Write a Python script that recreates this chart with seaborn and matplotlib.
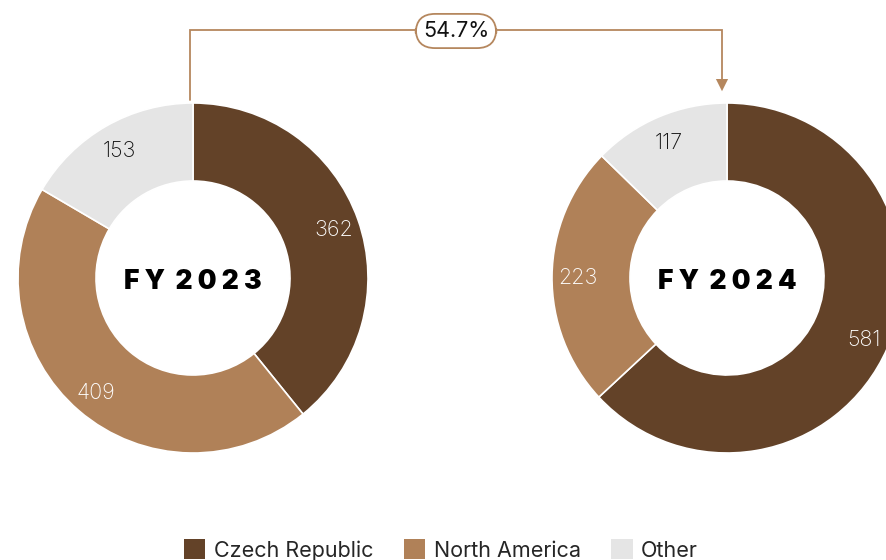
import numpy as np
import matplotlib
matplotlib.use("Agg")
import matplotlib.pyplot as plt
import seaborn as sns
from matplotlib.patches import Patch, FancyArrowPatch

sns.set_theme(style="white")
plt.rcParams['font.family'] = ['Inter', 'DejaVu Sans']

# Data
categories = ["Czech Republic", "North America", "Other"]
fy2023 = [362, 409, 153]
fy2024 = [581, 223, 117]
years = ["FY 2023", "FY 2024"]
growth_label = "54.7%"

palette = sns.color_palette(["#634228", "#B08158", "#E5E5E5"])
label_colors = ["white", "white", "#111111"]

W, H = 887, 560
fig = plt.figure(figsize=(W / 100, H / 100), dpi=100)
ax = fig.add_axes([0, 0, 1, 1])

R = 175
width = 78
centers = [(193, H - 278), (727, H - 278)]

for vals, year, (cx, cy) in zip([fy2023, fy2024], years, centers):
    wedges, _ = ax.pie(vals, colors=palette, startangle=90, counterclock=False,
                       radius=R, center=(cx, cy),
                       wedgeprops=dict(width=width, edgecolor="white", linewidth=1.2))
    total = sum(vals)
    start = 90.0
    for v, col in zip(vals, label_colors):
        span = 360.0 * v / total
        mid = np.deg2rad(start - span / 2)
        start -= span
        lr = 149
        ax.text(cx + lr * np.cos(mid), cy + lr * np.sin(mid) - 2, f"{v}",
                ha="center", va="center", fontsize=15.5, color=col,
                fontweight="light")
    spaced = "  ".join(" ".join(part) for part in year.split(" "))
    ax.text(cx, cy - 4, spaced, ha="center", va="center", fontsize=19,
            fontweight="black", color="black")

ax.set_xlim(0, W)
ax.set_ylim(0, H)
ax.set_aspect("equal")
ax.axis("off")

# Connector with growth label
line_col = "#B5875E"
x1, x2 = 190, 722
ytop = H - 30
ax.plot([x1, x1, x2, x2], [H - 100, ytop, ytop, H - 80], color=line_col, lw=1.3,
        solid_joinstyle="miter")
ax.add_patch(FancyArrowPatch((x2, H - 78), (x2, H - 94), arrowstyle="-|>",
                             mutation_scale=22, color=line_col, lw=0))
ax.text(456, ytop - 1, growth_label, ha="center", va="center", fontsize=15.5,
        color="#111111", fontweight="normal",
        bbox=dict(boxstyle="round,pad=0.33,rounding_size=0.9", fc="white",
                  ec=line_col, lw=1.3))

handles = [Patch(facecolor=c, edgecolor="none", label=l) for c, l in zip(palette, categories)]
fig.legend(handles=handles, loc="center", bbox_to_anchor=(441 / W, 1 - 550 / H),
           ncol=3, frameon=False, handlelength=1.0, handleheight=1.0,
           handletextpad=0.4, columnspacing=1.4, prop=dict(weight="normal", size=15.5))

fig.savefig("out.png", dpi=100)
